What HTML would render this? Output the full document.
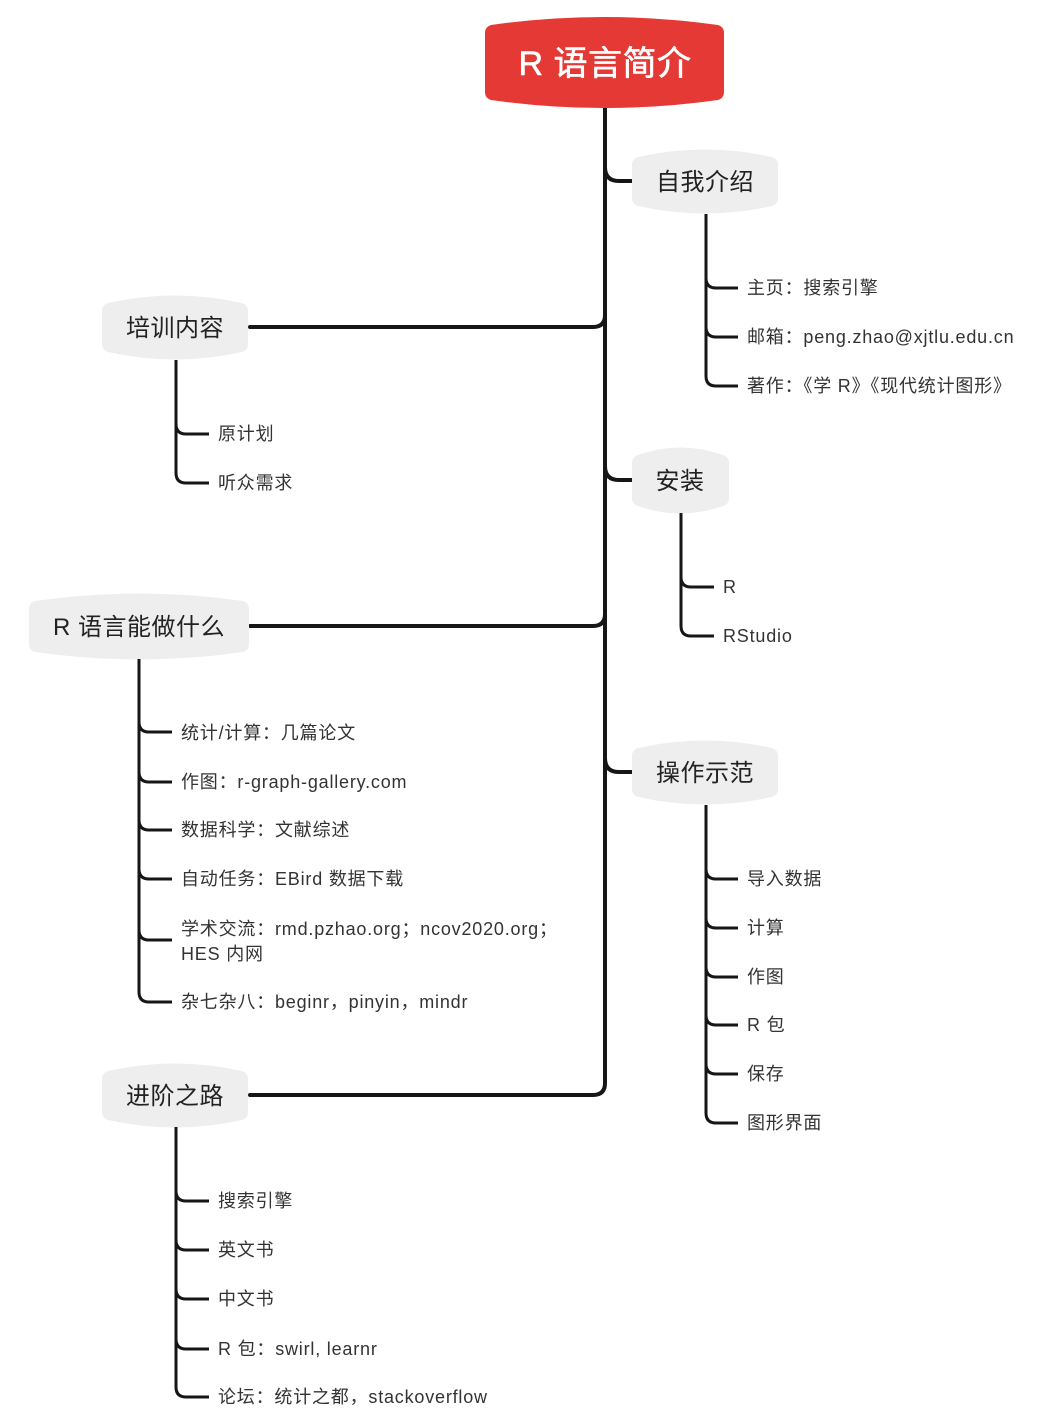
<!DOCTYPE html>
<html><head><meta charset="utf-8"><style>
html,body{margin:0;padding:0;background:#fff;}
svg{display:block;}
text{font-family:"Liberation Sans","Noto Sans CJK SC",sans-serif;fill:#333;}
.n{fill:#eeeeee;}
.t{font-size:24px;fill:#222;letter-spacing:0.5px;}
.l{font-size:18px;letter-spacing:0.8px;}
.c{fill:none;stroke:#161616;stroke-width:4;stroke-linecap:round;}
.s{fill:none;stroke:#161616;stroke-width:3;}
</style></head><body>
<svg width="1049" height="1428" viewBox="0 0 1049 1428" xmlns="http://www.w3.org/2000/svg">
<path class="c" d="M605,108 L605,1083 Q605,1095 593,1095 L250,1095"/>
<path class="c" d="M605,167 Q605,181 619,181 L632,181"/>
<path class="c" d="M605,466 Q605,480 619,480 L632,480"/>
<path class="c" d="M605,758 Q605,772 619,772 L632,772"/>
<path class="c" d="M605,315 Q605,327 593,327 L250,327"/>
<path class="c" d="M605,614 Q605,626 593,626 L250,626"/>

<path fill="#e53935" d="M491,25 Q605,9 718,25 Q724,27 724,33 L724,92 Q724,98 718,100 Q605,116 491,100 Q485,98 485,92 L485,33 Q485,27 491,25 Z"/>
<text x="605" y="75" text-anchor="middle" style="font-size:34px;fill:#fff;stroke:#fff;stroke-width:0.6px;letter-spacing:0.5px">R 语言简介</text>

<path class="n" d="M638,157 Q705,142 772,157 Q778,159 778,165 L778,198 Q778,204 772,206 Q705,221 638,206 Q632,204 632,198 L632,165 Q632,159 638,157 Z"/>
<text class="t" x="705" y="190" text-anchor="middle">自我介绍</text>
<path class="n" d="M108,303 Q175,288 242,303 Q248,305 248,311 L248,344 Q248,350 242,352 Q175,367 108,352 Q102,350 102,344 L102,311 Q102,305 108,303 Z"/>
<text class="t" x="175" y="336" text-anchor="middle">培训内容</text>
<path class="n" d="M638,455 Q680,440 723,455 Q729,457 729,463 L729,498 Q729,504 723,506 Q680,521 638,506 Q632,504 632,498 L632,463 Q632,457 638,455 Z"/>
<text class="t" x="680" y="489" text-anchor="middle">安装</text>
<path class="n" d="M35,601 Q139,586 243,601 Q249,603 249,609 L249,644 Q249,650 243,652 Q139,667 35,652 Q29,650 29,644 L29,609 Q29,603 35,601 Z"/>
<text class="t" x="139" y="635" text-anchor="middle">R 语言能做什么</text>
<path class="n" d="M638,748 Q705,733 772,748 Q778,750 778,756 L778,789 Q778,795 772,797 Q705,812 638,797 Q632,795 632,789 L632,756 Q632,750 638,748 Z"/>
<text class="t" x="705" y="781" text-anchor="middle">操作示范</text>
<path class="n" d="M108,1071 Q175,1056 242,1071 Q248,1073 248,1079 L248,1112 Q248,1118 242,1120 Q175,1135 108,1120 Q102,1118 102,1112 L102,1079 Q102,1073 108,1071 Z"/>
<text class="t" x="175" y="1104" text-anchor="middle">进阶之路</text>

<path class="s" d="M706,214 L706,376 Q706,386 716,386 L738,386"/>
<path class="s" d="M706,278 Q706,288 716,288 L738,288"/>
<path class="s" d="M706,327 Q706,337 716,337 L738,337"/>
<text class="l" x="747" y="294">主页：搜索引擎</text>
<text class="l" x="747" y="343">邮箱：peng.zhao@xjtlu.edu.cn</text>
<text class="l" x="747" y="392">著作：《学 R》《现代统计图形》</text>

<path class="s" d="M176,360 L176,473 Q176,483 186,483 L209,483"/>
<path class="s" d="M176,424 Q176,434 186,434 L209,434"/>
<text class="l" x="218" y="440">原计划</text>
<text class="l" x="218" y="489">听众需求</text>

<path class="s" d="M681,513 L681,626 Q681,636 691,636 L714,636"/>
<path class="s" d="M681,577 Q681,587 691,587 L714,587"/>
<text class="l" x="723" y="593">R</text>
<text class="l" x="723" y="642">RStudio</text>

<path class="s" d="M139,659 L139,992 Q139,1002 149,1002 L172,1002"/>
<path class="s" d="M139,722 Q139,732 149,732 L172,732"/>
<path class="s" d="M139,772 Q139,782 149,782 L172,782"/>
<path class="s" d="M139,820 Q139,830 149,830 L172,830"/>
<path class="s" d="M139,869 Q139,879 149,879 L172,879"/>
<path class="s" d="M139,930 Q139,940 149,940 L172,940"/>
<text class="l" x="181" y="739">统计/计算：几篇论文</text>
<text class="l" x="181" y="788">作图：r-graph-gallery.com</text>
<text class="l" x="181" y="836">数据科学：文献综述</text>
<text class="l" x="181" y="885">自动任务：EBird 数据下载</text>
<text class="l" x="181" y="935">学术交流：rmd.pzhao.org；ncov2020.org；</text>
<text class="l" x="181" y="960">HES 内网</text>
<text class="l" x="181" y="1008">杂七杂八：beginr，pinyin，mindr</text>

<path class="s" d="M706,805 L706,1113 Q706,1123 716,1123 L738,1123"/>
<path class="s" d="M706,869 Q706,879 716,879 L738,879"/>
<path class="s" d="M706,918 Q706,928 716,928 L738,928"/>
<path class="s" d="M706,967 Q706,977 716,977 L738,977"/>
<path class="s" d="M706,1015 Q706,1025 716,1025 L738,1025"/>
<path class="s" d="M706,1064 Q706,1074 716,1074 L738,1074"/>
<text class="l" x="747" y="885">导入数据</text>
<text class="l" x="747" y="934">计算</text>
<text class="l" x="747" y="983">作图</text>
<text class="l" x="747" y="1031">R 包</text>
<text class="l" x="747" y="1080">保存</text>
<text class="l" x="747" y="1129">图形界面</text>

<path class="s" d="M176,1127 L176,1387 Q176,1397 186,1397 L209,1397"/>
<path class="s" d="M176,1191 Q176,1201 186,1201 L209,1201"/>
<path class="s" d="M176,1240 Q176,1250 186,1250 L209,1250"/>
<path class="s" d="M176,1289 Q176,1299 186,1299 L209,1299"/>
<path class="s" d="M176,1339 Q176,1349 186,1349 L209,1349"/>
<text class="l" x="218" y="1207">搜索引擎</text>
<text class="l" x="218" y="1256">英文书</text>
<text class="l" x="218" y="1305">中文书</text>
<text class="l" x="218" y="1355">R 包：swirl, learnr</text>
<text class="l" x="218" y="1403">论坛：统计之都，stackoverflow</text>
</svg>
</body></html>
